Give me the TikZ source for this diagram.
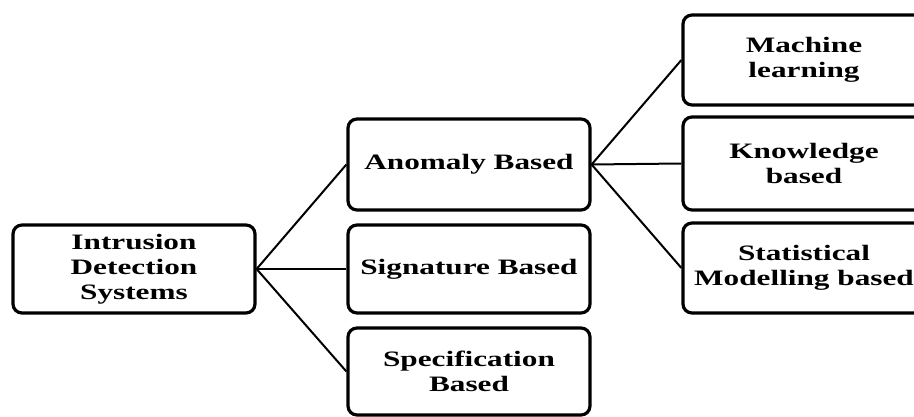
\documentclass[tikz,border=0pt]{standalone}
\usepackage{fontspec}
\setmainfont[FakeStretch=1.42]{Liberation Serif}
\begin{document}
\begin{tikzpicture}[x=1pt,y=-1pt,
  box/.style={draw=black, line width=3.2pt, rounded corners=9pt, fill=white,
    minimum width=242pt, inner sep=0pt, align=center,
    font=\fontsize{22}{25}\selectfont\bfseries},
  link/.style={draw=black, line width=2pt}]
\clip (0,0) rectangle (914,417);
\useasboundingbox (0,0) rectangle (914,417);
\node[box, minimum height=88pt] (ids) at (134,269) {Intrusion\\Detection\\Systems};
\node[box, minimum height=91pt] (ano) at (469,164.5) {Anomaly Based};
\node[box, minimum height=88pt] (sig) at (469,269) {Signature Based};
\node[box, minimum height=87pt] (spe) at (469,371.5) {Specification\\Based};
\node[box, minimum height=90pt] (ml) at (804,60) {Machine\\learning};
\node[box, minimum height=93pt] (kb) at (804,163.5) {Knowledge\\based};
\node[box, minimum height=90pt] (st) at (804,268) {Statistical\\Modelling based};
\draw[link] (ids.east) -- (ano.west);
\draw[link] (ids.east) -- (sig.west);
\draw[link] (ids.east) -- (spe.west);
\draw[link] (ano.east) -- (ml.west);
\draw[link] (ano.east) -- (kb.west);
\draw[link] (ano.east) -- (st.west);
\end{tikzpicture}
\end{document}
